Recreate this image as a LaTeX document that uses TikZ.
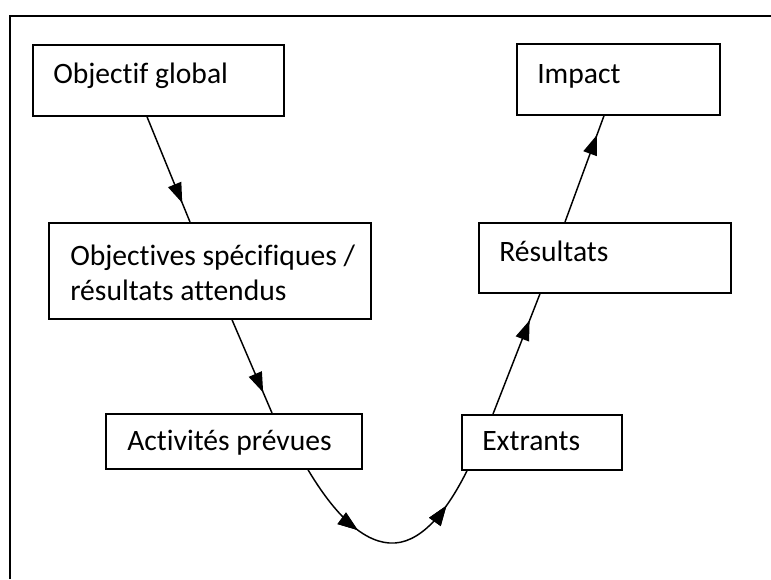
\documentclass[tikz,border=0pt]{standalone}
\usepackage{fontspec}
\setmainfont{Carlito}[Ligatures=CommonOff]
\usetikzlibrary{calc,arrows.meta,decorations.markings}
\begin{document}
\begin{tikzpicture}[x=0.75pt,y=-0.75pt,
  box/.style={draw, line width=1.3pt, inner sep=0pt, anchor=north west},
  lbl/.style={inner sep=0pt, anchor=base west, font=\fontsize{22.2pt}{27pt}\selectfont},
  conn/.style={line width=1.1pt},
  tipat/.style={postaction={decorate}, decoration={markings,
      mark=at position #1 with {\arrow{Triangle[length=15pt,width=10.5pt]}}}}]
\useasboundingbox (0,0) rectangle (771,579);
% outer frame (left and top edges)
\draw[line width=1.3pt] (10,579) -- (10,16) -- (771,16);
% boxes
\node[box, minimum width=251*0.75pt, minimum height=71*0.75pt] (og) at (32,44) {};
\node[box, minimum width=322*0.75pt, minimum height=96*0.75pt] (os) at (48,222) {};
\node[box, minimum width=256*0.75pt, minimum height=55*0.75pt] (ap) at (105,413) {};
\node[box, minimum width=160*0.75pt, minimum height=55*0.75pt] (ex) at (461,414) {};
\node[box, minimum width=252*0.75pt, minimum height=70*0.75pt] (rs) at (478,222) {};
\node[box, minimum width=203*0.75pt, minimum height=71*0.75pt] (im) at (516,43) {};
% labels
\node[lbl] (tog) at (53,83) {Objectif global};
\node[lbl] (tos1) at (70,265) {Objectives spécifiques /};
\node[lbl] (tos2) at (70,300) {résultats attendus};
\node[lbl] (tap) at (127,450) {Activités prévues};
\node[lbl] (tex) at (482,450) {Extrants};
\node[lbl] (trs) at (499,261) {Résultats};
\node[lbl] (tim) at (537,83) {Impact};
% connectors
\draw[conn, tipat=0.82] ($(og.south west)+(115,0)$) -- ($(os.north west)+(142,0)$);
\draw[conn, tipat=0.78] ($(os.south west)+(184,0)$) -- ($(ap.north west)+(167,0)$);
\draw[conn, tipat=0.35, tipat=0.82] ($(ap.south west)+(203,0)$)
   .. controls (335,515) and (365,545) .. (395,543)
   .. controls (425,541) and (450,505) .. ($(ex.south west)+(6,0)$);
\draw[conn, tipat=0.78] ($(ex.north west)+(32,0)$) -- ($(rs.south west)+(62,0)$);
\draw[conn, tipat=0.82] ($(rs.north west)+(87,0)$) -- ($(im.south west)+(88,0)$);
\end{tikzpicture}
\end{document}
